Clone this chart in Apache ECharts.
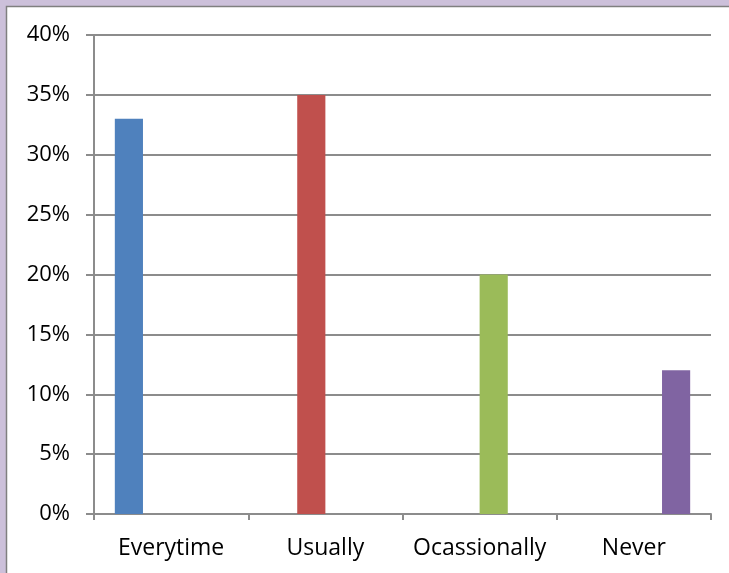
<!DOCTYPE html>
<html><head><meta charset="utf-8">
<script src="https://cdn.jsdelivr.net/npm/echarts@6/dist/echarts.min.js"></script>
<style>html,body{margin:0;padding:0;background:#fff}#c{width:729px;height:573px}</style>
</head><body><div id="c"></div>
<script>
const categories = ['Everytime', 'Usually', 'Ocassionally', 'Never'];
const values = [33, 35, 20, 12];
const colors = ['#4f81bd', '#c0504d', '#9bbb59', '#8064a2'];
const yTicks = [0, 5, 10, 15, 20, 25, 30, 35, 40];

const chart = echarts.init(document.getElementById('c'));
const series = categories.map((c, i) => ({
  type: 'bar',
  name: c,
  data: categories.map((_, j) => j === i ? values[i] : '-'),
  itemStyle: { color: colors[i] },
  barGap: '0%',
  barCategoryGap: '27%',
  z: 3
}));
const yBase = {
  type: 'value',
  min: yTicks[0], max: yTicks[yTicks.length - 1], interval: yTicks[1] - yTicks[0],
  position: 'left'
};
chart.setOption({
  animation: false,
  graphic: [
    { type: 'rect', shape: { x: 0, y: 0, width: 729, height: 573 }, style: { fill: '#ccc0da' }, z: -10 },
    { type: 'rect', shape: { x: 6.5, y: 6.5, width: 740, height: 580 }, style: { fill: '#ffffff', stroke: '#7f7f7f', lineWidth: 1.5 }, z: -9 }
  ],
  grid: { left: 94, right: 18, top: 35, bottom: 59 },
  xAxis: {
    type: 'category',
    data: categories,
    axisLine: { lineStyle: { color: '#8c8c8c', width: 2 } },
    axisTick: { show: true, length: 6, lineStyle: { color: '#8c8c8c', width: 2 } },
    axisLabel: { color: '#000', fontFamily: 'Open Sans', fontSize: 23, margin: 23, interval: 0 }
  },
  yAxis: Object.assign({}, yBase, {
    axisLine: { show: true, lineStyle: { color: '#8c8c8c', width: 2 } },
    axisTick: { show: true, inside: false, length: 8, lineStyle: { color: '#8c8c8c', width: 2 } },
    splitLine: { show: true, lineStyle: { color: '#8c8c8c', width: 2 } },
    axisLabel: { color: '#000', fontFamily: 'Open Sans', fontSize: 22, margin: 24, formatter: v => v + '%' }
  }),
  series: series
});
</script></body></html>
